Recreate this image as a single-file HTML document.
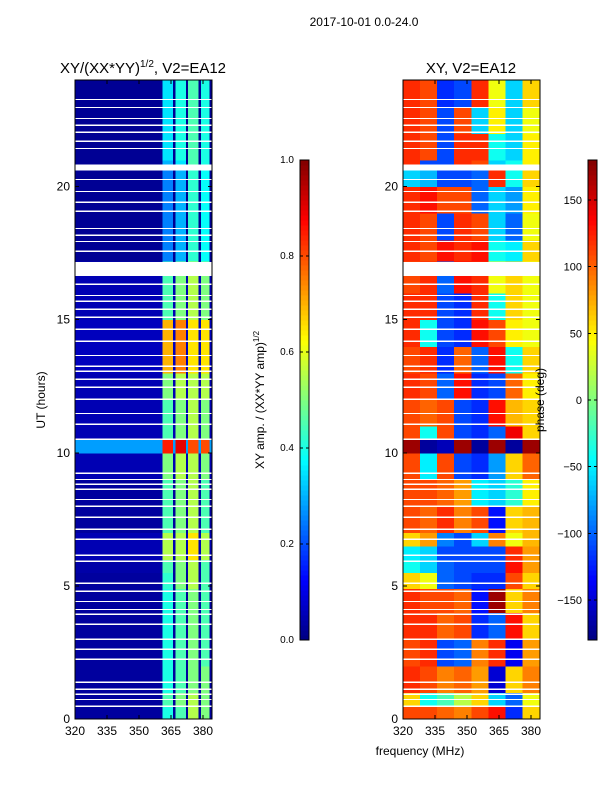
<!DOCTYPE html>
<html><head><meta charset="utf-8">
<style>
html,body{margin:0;padding:0;background:#fff;}
svg text{font-family:"Liberation Sans","DejaVu Sans",sans-serif;}
</style></head>
<body>
<svg id="fig" width="600" height="800" viewBox="0 0 600 800" xmlns="http://www.w3.org/2000/svg" shape-rendering="crispEdges">
  <text x="364" y="26" font-size="12" text-anchor="middle">2017-10-01 0.0-24.0</text>
  <text x="143" y="73" font-size="15" text-anchor="middle">XY/(XX*YY)<tspan font-size="10" dy="-6">1/2</tspan><tspan dy="6">, V2=EA12</tspan></text>
  <text x="471" y="73" font-size="15" text-anchor="middle">XY, V2=EA12</text>
  <text x="45" y="400" font-size="12" text-anchor="middle" transform="rotate(-90 45 400)">UT (hours)</text>
  <text x="420" y="755" font-size="12" text-anchor="middle">frequency (MHz)</text>
  <text x="264" y="400" font-size="12" text-anchor="middle" transform="rotate(-90 264 400)">XY amp. / (XX*YY amp)<tspan font-size="8" dy="-5">1/2</tspan></text>
  <g id="left"></g>
  <g id="right"></g>
  <g id="axes"></g>
  <g id="cbars"></g>
  <text x="544" y="400" font-size="12" text-anchor="middle" transform="rotate(-90 544 400)">phase (deg)</text>
</svg>
<script>
// ---- data ----
const rowEdges = [0,0.5,1,2,3,4,4.9,5.5,6,6.5,7,8,9,10,10.5,11,12,13,14,15,16,16.6,17.2,18,19,20,20.7,21,22,23,24];
const ampBg = [.03,.03,.03,.03,.03,.03,.03,.04,.05,.05,.03,.03,.05,.28,.05,.05,.05,.06,.06,.05,.05,.05,.02,.02,.02,.02,.02,.02,.02,.02];
const ampS1 = [.4,.45,.4,.4,.4,.4,.42,.45,.55,.55,.45,.45,.5,.85,.45,.45,.5,.7,.7,.45,.45,.45,.25,.25,.25,.25,.3,.35,.35,.35];
const ampS2 = [.45,.5,.45,.45,.45,.45,.5,.5,.55,.55,.5,.5,.55,.9,.5,.5,.55,.75,.75,.5,.5,.5,.3,.3,.3,.3,.35,.4,.4,.4];
const ampS3 = [.55,.55,.5,.5,.5,.5,.55,.55,.65,.65,.55,.55,.55,.8,.55,.55,.55,.65,.65,.55,.55,.55,.42,.42,.42,.42,.45,.45,.45,.45];
const ampS4 = [.5,.5,.5,.45,.45,.45,.45,.45,.55,.55,.45,.45,.5,.8,.5,.5,.55,.65,.65,.5,.5,.5,.38,.38,.38,.38,.4,.4,.4,.4];
const phaseCols = [320,328,336,344,352,360,368,376,384];
const phase = [
 [110,110,100,90,110,130,-120,60],
 [60,-40,-20,20,60,-60,-100,40],
 [120,110,90,100,80,-150,60,90],
 [110,120,-110,-100,90,120,-140,80],
 [120,120,100,110,-120,-100,130,60],
 [120,110,110,100,-130,170,60,90],
 [60,40,-100,-110,-120,-120,110,60],
 [-40,-60,-100,-110,-110,-110,130,80],
 [-50,-60,-110,-110,-110,-110,120,80],
 [60,80,-90,-110,-60,90,40,70],
 [110,100,120,90,110,-130,60,70],
 [110,110,100,80,-50,-60,-30,50],
 [110,-50,110,-110,-120,-80,60,100],
 [170,-170,-160,170,-170,170,-170,170],
 [110,-40,110,-110,-120,-100,140,60],
 [110,100,110,-110,-120,130,70,60],
 [120,110,-100,130,-120,-110,100,50],
 [110,120,-120,100,-100,130,-40,60],
 [120,-40,-110,-120,130,110,50,40],
 [120,120,-110,-120,120,-40,60,40],
 [110,120,-100,130,120,40,60,40],
 [110,120,-100,130,120,40,60,40],
 [120,110,130,120,130,-40,-50,60],
 [120,110,-110,120,110,-60,-100,40],
 [120,130,110,110,-100,-60,-80,50],
 [-60,-70,-110,-110,-100,120,-40,60],
 [120,-110,-110,120,110,-60,-40,50],
 [120,110,-110,120,120,-40,-60,50],
 [120,110,-110,110,-60,50,-60,40],
 [120,110,-120,-110,120,40,-60,60]
];
const gapStart = [23.24,22.94,22.53,22.27,22.01,21.67,21.40,20.6,20.24,19.79,19.38,19.04,18.40,18.14,17.91,17.54,16.64,16.30,15.88,15.66,15.36,15.06,14.61,14.16,13.63,13.22,13.03,12.73,12.43,11.98,11.45,11.04,10.48,9.20,8.97,8.79,8.60,8.22,7.96,7.55,7.10,6.72,6.12,5.90,5.07,4.77,4.39,4.09,3.91,3.53,2.97,2.59,2.22,1.35,1.09,0.90,0.71,0.45];
const gapWidth = [.05,.05,.05,.05,.05,.05,.05,.23,.05,.05,.05,.05,.05,.05,.05,.05,.52,.05,.05,.05,.05,.05,.05,.05,.05,.05,.05,.05,.05,.05,.05,.05,.05,.05,.05,.05,.05,.05,.05,.05,.05,.05,.05,.05,.05,.05,.05,.05,.05,.05,.05,.05,.05,.05,.05,.05,.05,.05];
const ampSegEdges = [320,361,366,367,372,373,378,379,383,384];
const xTicks = [320,335,350,365,380];
const yTicks = [0,5,10,15,20];
const ampTicks = [0.0,0.2,0.4,0.6,0.8,1.0];
const phaseTicks = [-150,-100,-50,0,50,100,150];

// ---- scales ----
const NS="http://www.w3.org/2000/svg";
const yTop=80, yBot=719;
const yS = h => yBot - h*(yBot-yTop)/24;
const xL = f => 75 + (f-320)*(128/60);
const xR = f => 403 + (f-320)*(128/60);
function jet(v){v=Math.max(0,Math.min(1,v));
 const r=Math.max(0,Math.min(1,1.5-Math.abs(4*v-3))),g=Math.max(0,Math.min(1,1.5-Math.abs(4*v-2))),b=Math.max(0,Math.min(1,1.5-Math.abs(4*v-1)));
 return `rgb(${Math.round(r*255)},${Math.round(g*255)},${Math.round(b*255)})`;}
function mk(tag,attrs,parent){const e=document.createElementNS(NS,tag);for(const k in attrs)e.setAttribute(k,attrs[k]);parent.appendChild(e);return e;}

const L=document.getElementById('left'), R=document.getElementById('right');
for(let i=0;i<rowEdges.length-1;i++){
 const y1=yS(rowEdges[i+1]), y0=yS(rowEdges[i]);
 const segVals=[ampBg[i],ampS1[i],ampBg[i],ampS2[i],ampBg[i],ampS3[i],ampBg[i],ampS4[i],ampBg[i]];
 for(let j=0;j<segVals.length;j++){
  const r=mk('rect',{x:xL(ampSegEdges[j]),y:y1,width:xL(ampSegEdges[j+1])-xL(ampSegEdges[j])+0.5,height:y0-y1+0.5,fill:jet(segVals[j])},L);
  
  
 }
 for(let j=0;j<phaseCols.length-1;j++){
  const r=mk('rect',{x:xR(phaseCols[j]),y:y1,width:xR(phaseCols[j+1])-xR(phaseCols[j])+0.5,height:y0-y1+0.5,fill:jet((phase[i][j]+180)/360)},R);
  
  
 }
}
for(let k=0;k<gapStart.length;k++){
 const ya=yS(gapStart[k]+gapWidth[k]), yb=yS(gapStart[k]);
 for(const [g,x0] of [[L,75],[R,403]]){
  const r=mk('rect',{x:x0,y:ya,width:137,height:Math.max(1.3,yb-ya),fill:'#fff'},g);
  
  
 }
}
const A=document.getElementById('axes');
for(const x0 of [75,403]){
 const f=mk('rect',{x:x0,y:yTop,width:137,height:yBot-yTop,fill:'none',stroke:'#000','stroke-width':1},A);
 
 
 const sc = x0===75?xL:xR;
 for(const t of xTicks){
  const x=sc(t);
  mk('line',{x1:x,x2:x,y1:yBot,y2:yBot-4,stroke:'#000'},A);
  mk('line',{x1:x,x2:x,y1:yTop,y2:yTop+4,stroke:'#000'},A);
  const tx=mk('text',{x:x,y:yBot+16,'font-size':12,'text-anchor':'middle'},A);tx.textContent=t;
  
  
 }
 for(const t of yTicks){
  const y=yS(t);
  mk('line',{x1:x0,x2:x0+4,y1:y,y2:y,stroke:'#000'},A);
  mk('line',{x1:x0+137,x2:x0+133,y1:y,y2:y,stroke:'#000'},A);
  const tx=mk('text',{x:x0-5,y:y+4,'font-size':12,'text-anchor':'end'},A);tx.textContent=t;
  
  
 }
}
// colorbars
const C=document.getElementById('cbars');
const cbT=160, cbB=640;
for(let k=0;k<96;k++){
 const y=cbB-(k+1)*(cbB-cbT)/96;
 mk('rect',{x:300,y:y,width:9,height:(cbB-cbT)/96+0.6,fill:jet((k+0.5)/96)},C);
 mk('rect',{x:588,y:y,width:9,height:(cbB-cbT)/96+0.6,fill:jet((k+0.5)/96)},C);
}
for(const x of [300,588]){
 const f=mk('rect',{x:x,y:cbT,width:9,height:cbB-cbT,fill:'none',stroke:'#000'},C);
 
 
}
for(const t of ampTicks){
 const y=cbB-t*(cbB-cbT);
 mk('line',{x1:300,x2:303,y1:y,y2:y,stroke:'#000'},C);
 mk('line',{x1:309,x2:306,y1:y,y2:y,stroke:'#000'},C);
 const tx=mk('text',{x:294,y:y+3,'font-size':10,'text-anchor':'end'},C);tx.textContent=t.toFixed(1);
 
 
}
for(const t of phaseTicks){
 const y=cbB-(t+180)/360*(cbB-cbT);
 mk('line',{x1:588,x2:591,y1:y,y2:y,stroke:'#000'},C);
 mk('line',{x1:597,x2:594,y1:y,y2:y,stroke:'#000'},C);
 const tx=mk('text',{x:582,y:y+4,'font-size':11,'text-anchor':'end'},C);tx.textContent=t<0?'\u2212'+(-t):t;
 
 
}
</script>
</body></html>
